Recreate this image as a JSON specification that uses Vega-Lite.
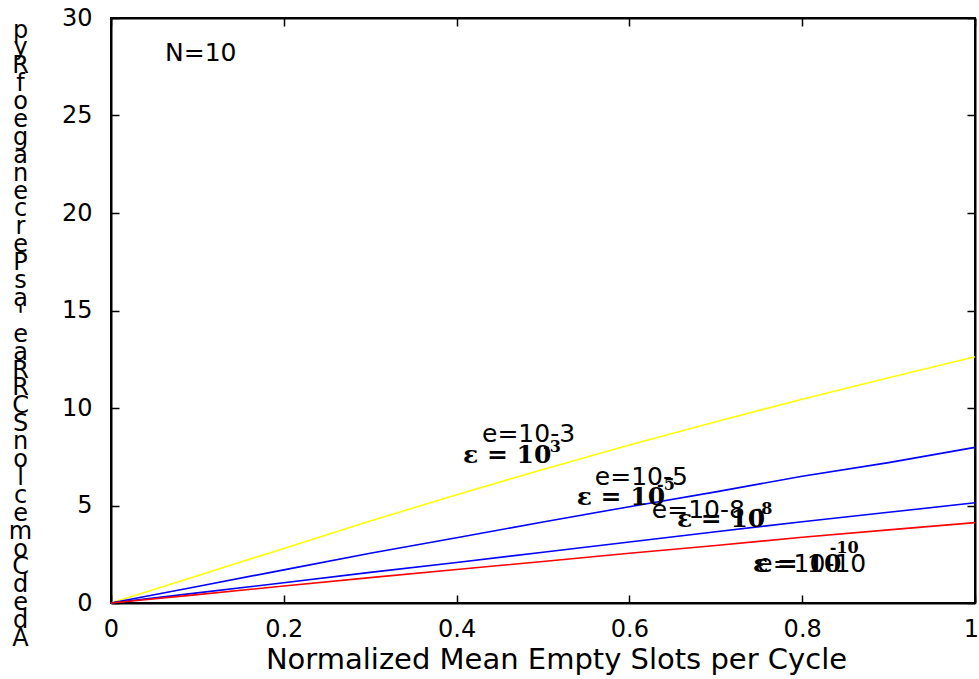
{
  "$schema": "https://vega.github.io/schema/vega-lite/v6.json",
  "width": 864,
  "height": 585,
  "autosize": {"type": "none"},
  "padding": {"left": 111, "top": 18, "right": 4, "bottom": 76},
  "background": "white",
  "config": {
    "view": {"stroke": "black", "strokeWidth": 2},
    "axis": {"grid": false, "domainColor": "black", "domainWidth": 2, "tickColor": "black", "tickWidth": 1.5, "tickSize": -8, "labelColor": "black", "titleColor": "black", "labelFont": "DejaVu Sans", "titleFont": "DejaVu Sans", "titleFontWeight": "normal"}
  },
  "datasets": {
    "curves": [
      {"x": 0, "y": 0, "series": "e=10^-3"},
      {"x": 0.1, "y": 1.4, "series": "e=10^-3"},
      {"x": 0.2, "y": 2.8, "series": "e=10^-3"},
      {"x": 0.3, "y": 4.2, "series": "e=10^-3"},
      {"x": 0.4, "y": 5.55, "series": "e=10^-3"},
      {"x": 0.5, "y": 6.85, "series": "e=10^-3"},
      {"x": 0.6, "y": 8.1, "series": "e=10^-3"},
      {"x": 0.7, "y": 9.3, "series": "e=10^-3"},
      {"x": 0.8, "y": 10.45, "series": "e=10^-3"},
      {"x": 0.9, "y": 11.55, "series": "e=10^-3"},
      {"x": 1.0, "y": 12.63, "series": "e=10^-3"},
      {"x": 0, "y": 0, "series": "e=10^-5"},
      {"x": 0.1, "y": 0.85, "series": "e=10^-5"},
      {"x": 0.2, "y": 1.7, "series": "e=10^-5"},
      {"x": 0.3, "y": 2.55, "series": "e=10^-5"},
      {"x": 0.4, "y": 3.35, "series": "e=10^-5"},
      {"x": 0.5, "y": 4.15, "series": "e=10^-5"},
      {"x": 0.6, "y": 4.94, "series": "e=10^-5"},
      {"x": 0.7, "y": 5.7, "series": "e=10^-5"},
      {"x": 0.8, "y": 6.5, "series": "e=10^-5"},
      {"x": 0.9, "y": 7.2, "series": "e=10^-5"},
      {"x": 1.0, "y": 7.98, "series": "e=10^-5"},
      {"x": 0, "y": 0, "series": "e=10^-8"},
      {"x": 0.1, "y": 0.52, "series": "e=10^-8"},
      {"x": 0.2, "y": 1.04, "series": "e=10^-8"},
      {"x": 0.3, "y": 1.57, "series": "e=10^-8"},
      {"x": 0.4, "y": 2.08, "series": "e=10^-8"},
      {"x": 0.5, "y": 2.6, "series": "e=10^-8"},
      {"x": 0.6, "y": 3.13, "series": "e=10^-8"},
      {"x": 0.7, "y": 3.65, "series": "e=10^-8"},
      {"x": 0.8, "y": 4.17, "series": "e=10^-8"},
      {"x": 0.9, "y": 4.65, "series": "e=10^-8"},
      {"x": 1.0, "y": 5.14, "series": "e=10^-8"},
      {"x": 0, "y": 0, "series": "e=10^-10"},
      {"x": 0.1, "y": 0.43, "series": "e=10^-10"},
      {"x": 0.2, "y": 0.87, "series": "e=10^-10"},
      {"x": 0.3, "y": 1.3, "series": "e=10^-10"},
      {"x": 0.4, "y": 1.72, "series": "e=10^-10"},
      {"x": 0.5, "y": 2.13, "series": "e=10^-10"},
      {"x": 0.6, "y": 2.55, "series": "e=10^-10"},
      {"x": 0.7, "y": 2.95, "series": "e=10^-10"},
      {"x": 0.8, "y": 3.37, "series": "e=10^-10"},
      {"x": 0.9, "y": 3.75, "series": "e=10^-10"},
      {"x": 1.0, "y": 4.12, "series": "e=10^-10"}
    ],
    "notes": [
      {"x": 0.0625, "y": 27.8, "label": "N=10", "kind": "plain"},
      {"x": 0.4294, "y": 8.26, "label": "e=10-3", "kind": "plain"},
      {"x": 0.560, "y": 6.05, "label": "e=10-5", "kind": "plain"},
      {"x": 0.626, "y": 4.36, "label": "e=10-8", "kind": "plain"},
      {"x": 0.748, "y": 1.59, "label": "e=10-10", "kind": "plain"},
      {"x": 0.4074, "y": 7.18, "label": "ε = 10", "kind": "bold"},
      {"x": 0.539, "y": 5.03, "label": "ε = 10", "kind": "bold"},
      {"x": 0.655, "y": 3.9, "label": "ε = 10", "kind": "bold"},
      {"x": 0.743, "y": 1.59, "label": "ε = 10", "kind": "bold"},
      {"x": 0.5, "y": 7.74, "label": "-3", "kind": "sup"},
      {"x": 0.632, "y": 5.79, "label": "-5", "kind": "sup"},
      {"x": 0.745, "y": 4.56, "label": "-8", "kind": "sup"},
      {"x": 0.832, "y": 2.56, "label": "-10", "kind": "sup"}
    ]
  },
  "resolve": {"axis": {"x": "independent", "y": "independent"}},
  "layer": [
    {
      "data": {"name": "curves"},
      "mark": {"type": "line", "strokeWidth": 1.6},
      "encoding": {
        "x": {"field": "x", "type": "quantitative", "scale": {"domain": [0, 1], "nice": false},
          "axis": {"orient": "bottom", "values": [0, 0.2, 0.4, 0.6, 0.8, 1], "format": "~g", "labelFontSize": 24, "labelPadding": 22, "labelFlush": false, "labelOverlap": false,
            "labelOffset": {"condition": {"test": "datum.value === 1", "value": -4}, "value": 0},
            "title": "Normalized Mean Empty Slots per Cycle", "titleFontSize": 29, "titlePadding": 4, "titleX": 445}},
        "y": {"field": "y", "type": "quantitative", "scale": {"domain": [0, 30], "nice": false},
          "axis": {"orient": "left", "values": [0, 5, 10, 15, 20, 25, 30], "labelFontSize": 24, "labelPadding": 27, "labelFlush": false, "labelOverlap": false,
            "title": ["p","y","R","f","o","e","g","a","n","e","c","r","e","P","s","a","'","e","a","R","R","C","S","n","o","l","c","e","m","o","C","d","e","d","A"],
            "titleAngle": 0, "titleX": -91, "titleY": 0, "titleAlign": "center", "titleBaseline": "top", "titleFontSize": 24, "titleLineHeight": 17.9}},
        "color": {"field": "series", "type": "nominal", "scale": {"domain": ["e=10^-3", "e=10^-5", "e=10^-8", "e=10^-10"], "range": ["#FFFF00", "#0000FF", "#0000FF", "#FF0000"]}, "legend": null},
        "detail": {"field": "series"}
      }
    },
    {
      "data": {"name": "notes"},
      "transform": [{"filter": "datum.kind === 'plain'"}],
      "mark": {"type": "text", "align": "left", "baseline": "alphabetic", "font": "DejaVu Sans", "fontSize": 25, "color": "black"},
      "encoding": {
        "x": {"field": "x", "type": "quantitative", "axis": {"orient": "top", "values": [0, 0.2, 0.4, 0.6, 0.8, 1], "labels": false, "title": null}},
        "y": {"field": "y", "type": "quantitative", "axis": {"orient": "right", "values": [0, 5, 10, 15, 20, 25, 30], "labels": false, "title": null}},
        "text": {"field": "label"}
      }
    },
    {
      "data": {"name": "notes"},
      "transform": [{"filter": "datum.kind === 'bold'"}],
      "mark": {"type": "text", "align": "left", "baseline": "alphabetic", "font": "DejaVu Serif", "fontWeight": "bold", "fontSize": 25, "color": "black"},
      "encoding": {
        "x": {"field": "x", "type": "quantitative", "axis": null},
        "y": {"field": "y", "type": "quantitative", "axis": null},
        "text": {"field": "label"}
      }
    },
    {
      "data": {"name": "notes"},
      "transform": [{"filter": "datum.kind === 'sup'"}],
      "mark": {"type": "text", "align": "left", "baseline": "alphabetic", "font": "DejaVu Serif", "fontWeight": "bold", "fontSize": 16, "color": "black"},
      "encoding": {
        "x": {"field": "x", "type": "quantitative", "axis": null},
        "y": {"field": "y", "type": "quantitative", "axis": null},
        "text": {"field": "label"}
      }
    }
  ]
}
